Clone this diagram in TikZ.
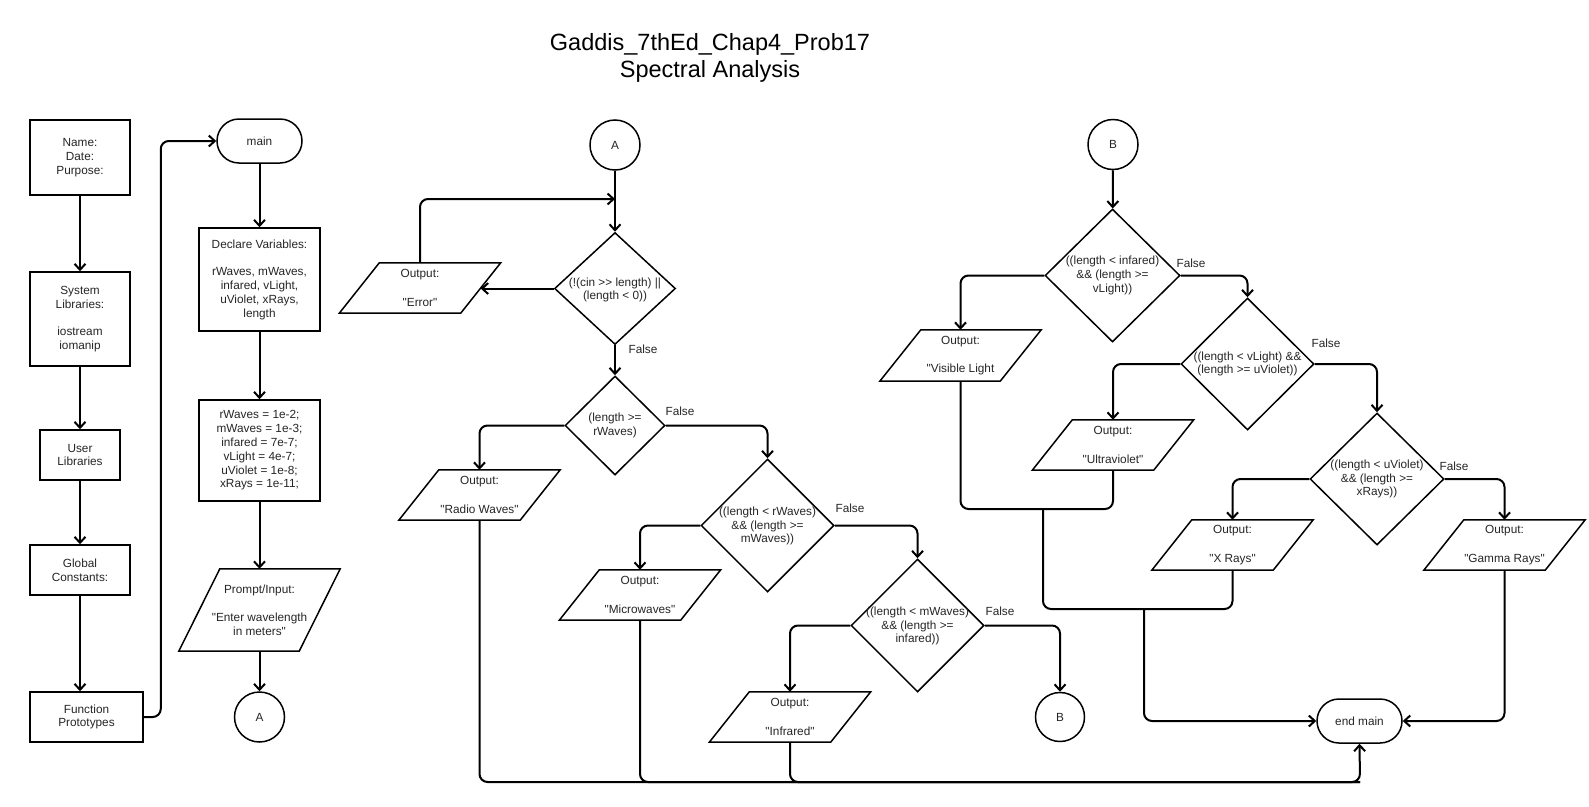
\documentclass[tikz,border=0pt]{standalone}
\usepackage{fontspec}
\newfontfamily\bodyfnt{Liberation Sans}
\usetikzlibrary{shapes.geometric,arrows.meta}
\newcommand{\parall}[2]{\draw[shpl] ([xshift=#2]#1.north west) -- (#1.north east) -- ([xshift=-#2]#1.south east) -- (#1.south west) -- cycle;}
\begin{document}
\begin{tikzpicture}[x=1pt,y=-1pt]
\tikzset{
 every node/.style={font=\bodyfnt\fontsize{11.8}{13.8}\selectfont, text=black!85},
 shpl/.style={draw, line width=1.5pt, line join=miter},
 shp/.style={shpl, inner sep=0pt, align=center},
 proc/.style={shp, rectangle},
 term/.style={shp, rectangle, rounded corners=22pt, minimum width=85pt, minimum height=44pt},
 conn/.style={shp, circle, minimum size=50pt},
 io/.style={rectangle, inner sep=0pt, align=center, minimum width=161pt, minimum height=50pt},
 dec/.style={shp, diamond},
 txt/.style={align=center, inner sep=0pt},
 lbl/.style={inner sep=0pt},
 ln/.style={line width=2pt, rounded corners=8pt},
 arr/.style={ln, -{Straight Barb[length=6pt,width=11pt]}}
}
\useasboundingbox (0,0) rectangle (1589,806);
\fill[white] (0,0) rectangle (1589,806);

% title
\node[font=\bodyfnt\fontsize{23.5}{27}\selectfont, align=center, text=black] (title) at (710,58) {Gaddis\_7thEd\_Chap4\_Prob17\\Spectral Analysis};

% left column
\node[proc, minimum width=100pt, minimum height=75pt] (n1) at (80,157.5) {Name:\\Date:\\Purpose:};
\node[proc, minimum width=100pt, minimum height=94pt] (n2) at (80,319) {System\\Libraries:\\[13.8pt]iostream\\iomanip};
\node[proc, minimum width=80pt, minimum height=50pt] (n3) at (80,455) {User\\Libraries};
\node[proc, minimum width=100pt, minimum height=50pt] (n4) at (80,570) {Global\\Constants:};
\node[proc, minimum width=113pt, minimum height=50pt] (n5) at (86.5,717) {Function\\Prototypes};

% main column
\node[term] (main) at (259.5,141) {main};
\node[proc, minimum width=121pt, minimum height=103pt] (decl) at (259.5,279.5) {Declare Variables:\\[13.8pt]rWaves, mWaves,\\infared, vLight,\\uViolet, xRays,\\length};
\node[proc, minimum width=121pt, minimum height=101pt] (init) at (259.5,450.5) {rWaves = 1e-2;\\mWaves = 1e-3;\\infared = 7e-7;\\vLight = 4e-7;\\uViolet = 1e-8;\\xRays = 1e-11;};
\node[io, minimum height=82pt] (prompt) at (259.5,610) {Prompt/Input:\\[14pt]"Enter wavelength\\in meters"};
\parall{prompt}{41pt}
\node[conn] (A1) at (259.5,717) {A};

% A section
\node[conn] (A2) at (615,145) {A};
\coordinate (jA) at (615,199);
\node[dec, minimum width=121pt, minimum height=112pt] (d1) at (615,288.5) {};
\node[txt] (d1t) at (615,290) {(!(cin >> length) ||\\(length < 0))};
\node[io] (err) at (420,288) {Output:\\[15pt]"Error"};
\parall{err}{40pt}
\node[dec, minimum width=100pt, minimum height=99pt] (d2) at (615,425.5) {};
\node[txt] (d2t) at (615,425.5) {(length >=\\rWaves)};
\node[io] (radio) at (479.5,495) {Output:\\[15pt]"Radio Waves"};
\parall{radio}{40pt}
\node[dec, minimum width=133pt, minimum height=133pt] (d3) at (767.5,525.5) {};
\node[txt] (d3t) at (767.5,526) {((length < rWaves)\\\&\& (length >=\\mWaves))};
\node[io] (micro) at (640,595) {Output:\\[15pt]"Microwaves"};
\parall{micro}{40pt}
\node[dec, minimum width=133pt, minimum height=133pt] (d4) at (917.5,625.5) {};
\node[txt] (d4t) at (917.5,626) {((length < mWaves)\\\&\& (length >=\\infared))};
\node[io] (infra) at (790,717) {Output:\\[15pt]"Infrared"};
\parall{infra}{40pt}
\node[conn, minimum size=49pt] (B1) at (1060,717) {B};

% B section
\node[conn] (B2) at (1113,144.5) {B};
\node[dec, minimum width=135pt, minimum height=133pt] (dB1) at (1112.5,275.5) {};
\node[txt] (dB1t) at (1112.5,275.5) {((length < infared)\\\&\& (length >=\\vLight))};
\node[io, minimum height=51pt] (vis) at (960.5,355.5) {Output:\\[15pt]"Visible Light};
\parall{vis}{41pt}
\node[dec, minimum width=133pt, minimum height=132pt] (dB2) at (1247.5,364) {};
\node[txt] (dB2t) at (1247.5,364) {((length < vLight) \&\&\\(length >= uViolet))};
\node[io] (uv) at (1113,445) {Output:\\[15pt]"Ultraviolet"};
\parall{uv}{40pt}
\node[dec, minimum width=134pt, minimum height=132pt] (dB3) at (1377,479) {};
\node[txt] (dB3t) at (1377,479) {((length < uViolet)\\\&\& (length >=\\xRays))};
\node[io] (xr) at (1232.5,545) {Output:\\[15pt]"X Rays"};
\parall{xr}{40pt}
\node[io] (gr) at (1504.5,545) {Output:\\[15pt]"Gamma Rays"};
\parall{gr}{40pt}
\node[term] (endm) at (1359.5,721) {end main};

% False labels
\node[lbl] (f1) at (643,349) {False};
\node[lbl] (f2) at (680,411) {False};
\node[lbl] (f3) at (850,508) {False};
\node[lbl] (f4) at (1000,611) {False};
\node[lbl] (f5) at (1191,263) {False};
\node[lbl] (f6) at (1326,343) {False};
\node[lbl] (f7) at (1454,466) {False};

% left connectors
\draw[arr] (n1) -- (n2);
\draw[arr] (n2) -- (n3);
\draw[arr] (n3) -- (n4);
\draw[arr] (n4.south) -- (n4.south |- n5.north);
\draw[arr] (n5.east) -- ++(17,0) |- (main.west);
\draw[arr] (main) -- (decl);
\draw[arr] (decl) -- (init);
\draw[arr] (init) -- (prompt);
\draw[arr] (prompt) -- (A1);

% A section connectors
\draw[arr] (A2) -- (d1);
\draw[arr] (err.north) |- (jA);
\draw[arr] (d1.west) -- ([xshift=-20pt]d1.west -| err.east);
\draw[arr] (d1) -- (d2);
\draw[arr] (d2.west) -| (radio.north);
\draw[arr] (d2.east) -| (d3.north);
\draw[arr] (d3.west) -| (micro.north);
\draw[arr] (d3.east) -| (d4.north);
\draw[arr] (d4.west) -| (infra.north);
\draw[arr] (d4.east) -| (B1.north);

% B section connectors
\draw[arr] (B2) -- (dB1);
\draw[arr] (dB1.west) -| (vis.north);
\draw[arr] (dB1.east) -| (dB2.north);
\draw[arr] (dB2.west) -| (uv.north);
\draw[arr] (dB2.east) -| (dB3.north);
\draw[arr] (dB3.west) -| (xr.north);
\draw[arr] (dB3.east) -| (gr.north);

% merging lines
\coordinate (bot) at (1360,782);
\draw[arr] (radio.south) |- (bot) -- (endm.south);
\draw[ln] (micro.south) |- (bot);
\draw[ln] (infra.south) |- (bot);
\coordinate (j1) at (1043,509);
\coordinate (j2) at (1144,609);
\draw[ln] (vis.south) |- (j1);
\draw[ln] (uv.south) |- (j1);
\draw[ln] (j1) |- (j2);
\draw[ln] (xr.south) |- (j2);
\draw[arr] (j2) |- (endm.west);
\draw[arr] (gr.south) |- (endm.east);
\end{tikzpicture}
\end{document}
